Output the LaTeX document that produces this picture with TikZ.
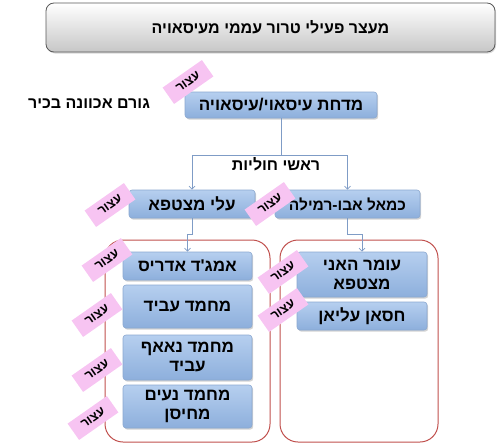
\documentclass[tikz,border=0pt]{standalone}
\usepackage{fontspec}
\setmainfont{Liberation Sans}
\newfontfamily\heb[Script=Hebrew]{Liberation Sans}
\newfontfamily\hebplain{Liberation Sans}
\TeXXeTstate=1
\usetikzlibrary{shadows,arrows.meta}
\newcommand\hebtxt[1]{\beginR#1\endR}
\definecolor{boxtop}{HTML}{B6CFEF}
\definecolor{boxbot}{HTML}{8DAFDC}
\definecolor{boxedge}{HTML}{8BA8D0}
\definecolor{tagpink}{HTML}{F7C4F2}
\definecolor{grpred}{HTML}{C0504D}
\definecolor{connblue}{HTML}{7F9CC6}
\begin{document}
\begin{tikzpicture}[x=1pt,y=-1pt,
  font=\heb\bfseries\fontsize{16}{18}\selectfont,
  pbox/.style={rectangle, rounded corners=3pt, top color=boxtop, bottom color=boxbot,
    draw=boxedge, line width=0.6pt, align=center, inner sep=1pt,
    font=\heb\bfseries\fontsize{17}{19}\selectfont,
    drop shadow={opacity=0.35, shadow xshift=1.2pt, shadow yshift=-1.6pt}},
  tagbox/.style={rectangle, fill=tagpink, rotate=35, minimum width=48pt,
    minimum height=20pt, inner sep=0pt},
  tagtext/.style={inner sep=0pt, rotate=35, font=\hebplain\bfseries\fontsize{12.5}{14}\selectfont},
  conn/.style={draw=connblue, line width=0.7pt, -{Straight Barb[length=3pt,width=6pt]}},
  grp/.style={draw=grpred, line width=1pt, rounded corners=18pt},
  plaintext/.style={inner sep=0pt}]
\useasboundingbox (0,0) rectangle (500,447);
% banner
\node[rectangle, rounded corners=8pt, top color=white, bottom color=black!22,
  draw=black!65, line width=0.8pt, minimum width=449pt, minimum height=49pt,
  drop shadow={opacity=0.3, shadow xshift=1pt, shadow yshift=-1.5pt}]
  (title) at (270.5,27.5) {\hebtxt{מעצר פעילי טרור עממי מעיסאויה}};
% groups
\node[grp, minimum width=165pt, minimum height=202pt] (leftgrp) at (187.5,341) {};
\node[grp, minimum width=158pt, minimum height=202pt] (rightgrp) at (359,341) {};
% boxes
\node[pbox, minimum width=192pt, minimum height=26pt] (top) at (281,105) {\hebtxt{מדחת עיסאוי/עיסאויה}};
\node[plaintext] (senior) at (89,104) {\hebtxt{גורם אכוונה בכיר}};
\node[pbox, minimum width=126pt, minimum height=28pt] (ali) at (192,204) {\hebtxt{עלי מצטפא}};
\node[pbox, minimum width=145pt, minimum height=28pt, font=\heb\bfseries\fontsize{15.5}{18}\selectfont] (kamal) at (347.5,204) {\hebtxt{כמאל אבו-רמילה}};
\node[pbox, minimum width=129pt, minimum height=28pt] (amjad) at (187.5,266) {\hebtxt{אמג'ד אדריס}};
\node[pbox, minimum width=129pt, minimum height=43pt] (mhdA) at (187.5,306.5) {\hebtxt{מחמד עביד}};
\node[pbox, minimum width=129pt, minimum height=45pt] (mhdB) at (187.5,357.5) {\hebtxt{מחמד נאאף}\\\hebtxt{עביד}};
\node[pbox, minimum width=129pt, minimum height=43pt] (mhdC) at (187.5,406.5) {\hebtxt{מחמד נעים}\\\hebtxt{מחיסן}};
\node[pbox, minimum width=130pt, minimum height=45pt] (omar) at (362,274.5) {\hebtxt{עומר האני}\\\hebtxt{מצטפא}};
\node[pbox, minimum width=130pt, minimum height=28pt] (hasan) at (362,316) {\hebtxt{חסאן עליאן}};
% connectors
\coordinate (bus) at (281,155);
\node[plaintext] (heads) at (276,164) {\hebtxt{ראשי חוליות}};
\draw[draw=connblue, line width=0.7pt] (top.south) -- (bus);
\draw[conn] (bus) -| (ali.north);
\draw[conn] (bus) -| (kamal.north);
\draw[conn] (ali.south) -- ++(0,16) -| (amjad.north);
\draw[conn] (kamal.south) -- ++(0,16) -| (omar.north);
% tags
\foreach \nm/\px/\py in {t0/188/82, t1/110/205, t2/270/204, t3/107/260, t4/97/315,
    t5/97/370, t6/93/418, t7/283/272, t8/283/310} {
  \node[tagbox] (\nm) at (\px,\py) {};
  \node[tagtext] (\nm txt) at (\nm.center) {עצור};
}
\end{tikzpicture}
\end{document}
